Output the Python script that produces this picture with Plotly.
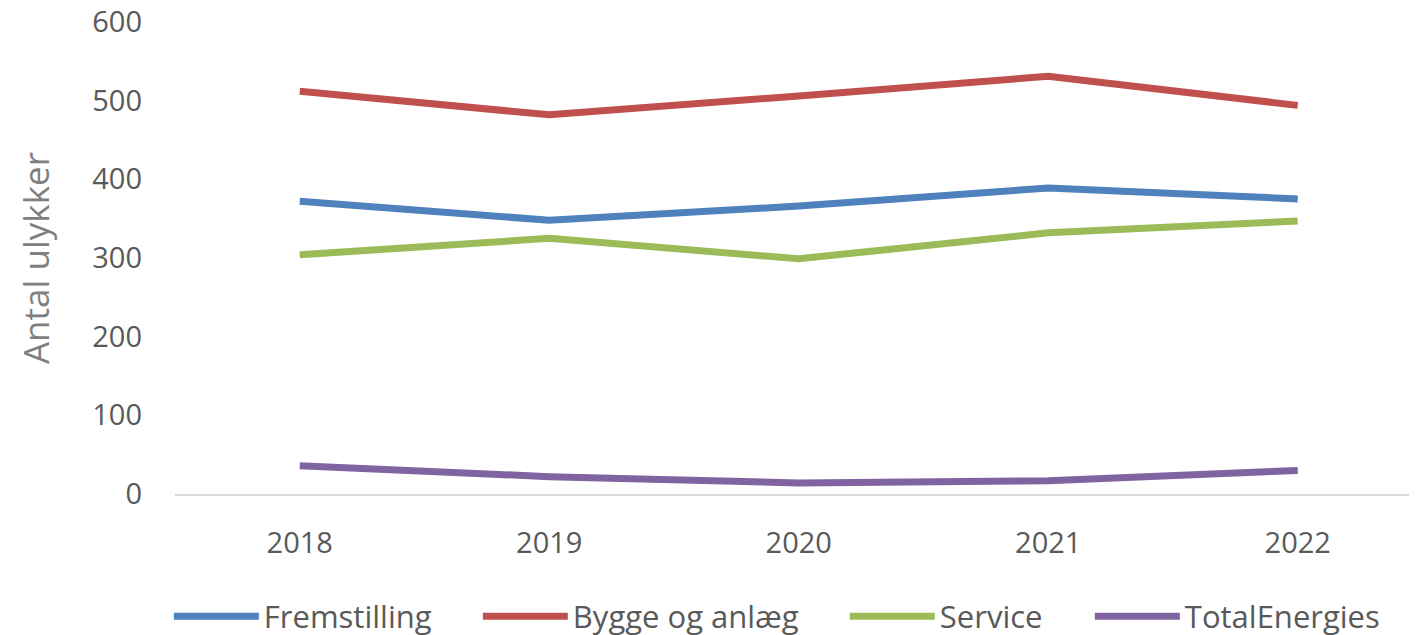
import plotly.graph_objects as go

years = ["2018", "2019", "2020", "2021", "2022"]
fremstilling = [372, 348, 366, 389, 375]
bygge = [512, 482, 506, 531, 494]
service = [304, 325, 299, 332, 347]
total = [36, 22, 14, 17, 30]

series = [
    ("Fremstilling", fremstilling, "#4F81BD", 209),
    ("Bygge og anlæg", bygge, "#C0504D", 267),
    ("Service", service, "#9BBB59", 145),
    ("TotalEnergies", total, "#8064A2", None),
]

fig = go.Figure()
for name, vals, col, lw in series:
    fig.add_trace(go.Scatter(x=years, y=vals, name=name, mode="lines",
                             line=dict(color=col, width=7), legendwidth=lw))

font_family = "Open Sans, sans-serif"
fig.update_layout(
    width=1417, height=635,
    margin=dict(l=167, r=15, t=14, b=149, autoexpand=False),
    paper_bgcolor="white", plot_bgcolor="white",
    font=dict(family=font_family, color="#595959", size=29),
    showlegend=True,
    legend=dict(orientation="h", x=-0.005, xanchor="left", y=-0.26, yanchor="middle",
                font=dict(size=31, color="#595959"), itemwidth=85, tracegroupgap=0),
    xaxis=dict(type="category", range=[-0.5, 4.45], showgrid=False,
               showline=True, linecolor="#D9D9D9", linewidth=2, automargin=False,
               ticks="", ticklabelstandoff=22, tickfont=dict(size=29, color="#595959")),
    yaxis=dict(range=[0, 600], dtick=100, showgrid=False, zeroline=False,
               showline=False, ticks="", ticklabelstandoff=32, automargin=False,
               ticklabeloverflow="allow",
               tickfont=dict(size=29, color="#595959"),
               title=dict(text="Antal ulykker", font=dict(size=35, color="#7F7F7F"), standoff=32)),
)
fig.write_html("out.html")
